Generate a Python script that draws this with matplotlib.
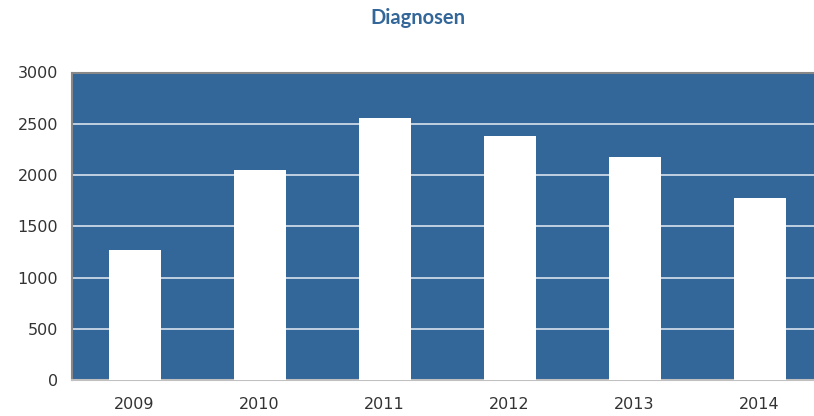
import matplotlib.pyplot as plt

years = ['2009', '2010', '2011', '2012', '2013', '2014']
diagnosen = [1270, 2050, 2560, 2385, 2180, 1780]
y_ticks = [0, 500, 1000, 1500, 2000, 2500, 3000]

fig = plt.figure(figsize=(8.14, 4.16), dpi=100)
# plot area runs a little past the right edge of the picture, like the original
ax = fig.add_axes([72 / 814, (416 - 380) / 416, 750 / 814, 307.5 / 416])

ax.set_facecolor('#336699')
ax.bar(range(len(years)), diagnosen, width=0.416, color='white', zorder=3)

ax.set_xlim(-0.5, len(years) - 0.5)
ax.set_ylim(0, 3000)
ax.set_xticks(range(len(years)))
ax.set_xticklabels(years)
ax.set_yticks(y_ticks)
ax.yaxis.grid(True, color='#d8e2ee', linewidth=1.2, zorder=1)
ax.set_axisbelow(True)

ax.tick_params(axis='both', length=0, labelsize=11.5, labelcolor='#333333')
ax.tick_params(axis='x', pad=12)
ax.tick_params(axis='y', pad=10)

for side in ['top', 'left']:
    ax.spines[side].set_color('#888888')
    ax.spines[side].set_linewidth(1.5)
ax.spines['bottom'].set_color('#c0c0c0')
ax.spines['bottom'].set_linewidth(1.5)
ax.spines['right'].set_visible(False)

fig.text(418 / 814, 1 - 18 / 416, 'Diagnosen', ha='center', va='center',
         fontsize=14.5, fontweight='bold', color='#336699', family='Lato')

fig.savefig('out.png', dpi=100)
